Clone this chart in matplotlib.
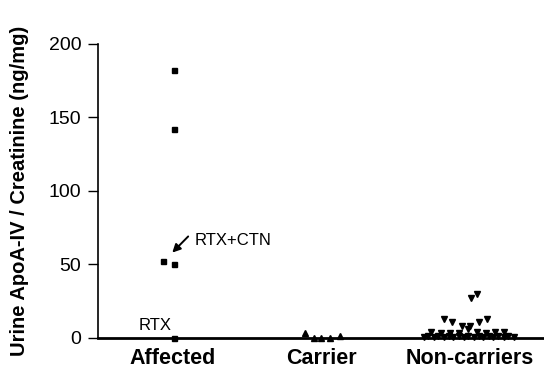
import matplotlib.pyplot as plt

plt.rcParams['font.family'] = ['Liberation Sans', 'DejaVu Sans']

# Data
categories = ["Affected", "Carrier", "Non-carriers"]

affected_off = [0.01, 0.01, -0.06, 0.01, 0.01]
affected_val = [182, 142, 52.5, 50, 0]

carrier_off = [-0.11, -0.05, 0.0, 0.06, 0.13]
carrier_val = [3, 0, 0, 0, 1.5]

non_off = [
    -0.31, -0.28, -0.24, -0.21, -0.17, -0.14, -0.11, -0.07, -0.04, -0.01,
    0.03, 0.06, 0.09, 0.13, 0.16, 0.19, 0.23, 0.26, 0.30,
    -0.26, -0.19, -0.13, -0.07, -0.01, 0.05, 0.11, 0.17, 0.23,
    -0.17, -0.12, -0.05, 0.0, 0.06, 0.12,
    0.01, 0.05,
]
non_val = [
    0.5, 1, 0.5, 1, 0.5, 1, 0.5, 1, 0.5, 1,
    0.5, 1, 0.5, 1, 0.5, 1, 0.5, 1, 0.5,
    4, 3, 3, 3, 6, 4, 3, 4, 4,
    13, 11, 8, 8, 11, 13,
    27, 30,
]

fig = plt.figure(figsize=(5.44, 3.75), dpi=100)
ax = fig.add_axes([0.18, 0.099, 0.82, 0.784])

ax.plot([1 + o for o in affected_off], affected_val, 's', color='black',
        markersize=3.6, clip_on=False)
ax.plot([2 + o for o in carrier_off], carrier_val, '^', color='black',
        markersize=4.5, clip_on=False)
ax.plot([3 + o for o in non_off], non_val, 'v', color='black',
        markersize=4.5, clip_on=False)

# annotations
ax.annotate("", xy=(1.0, 58), xytext=(1.107, 69),
            arrowprops=dict(arrowstyle='-|>', color='black', lw=1.4,
                            shrinkA=0, shrinkB=0, mutation_scale=12))
ax.text(1.15, 66, "RTX+CTN", fontsize=12, va='center', ha='left')
ax.text(0.886, 3.2, "RTX", fontsize=12, ha='center', va='bottom')

ax.set_xlim(0.5, 3.5)
ax.set_ylim(0, 200)
ax.set_yticks([0, 50, 100, 150, 200])
ax.set_xticks([1, 2, 3])
ax.set_xticklabels(categories, fontsize=15.5, fontweight='bold')
ax.tick_params(axis='x', length=0, pad=7)
ax.tick_params(axis='y', direction='out', length=7, width=1, labelsize=14, pad=5)
ax.set_ylabel("Urine ApoA-IV / Creatinine (ng/mg)", fontsize=14.5,
              fontweight='bold', labelpad=14)

for s in ['top', 'right']:
    ax.spines[s].set_visible(False)
ax.spines['bottom'].set_linewidth(2)
ax.spines['left'].set_linewidth(1.2)

fig.savefig("out.png", dpi=100)
